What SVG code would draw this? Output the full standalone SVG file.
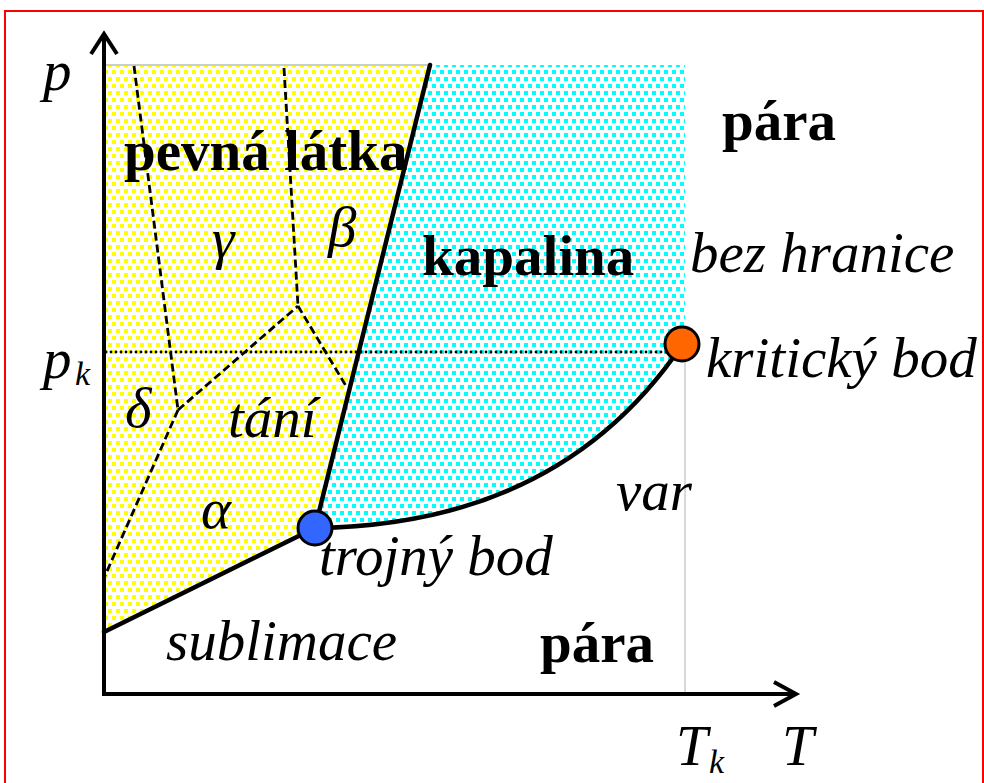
<svg xmlns="http://www.w3.org/2000/svg" width="984" height="783" viewBox="0 0 984 783">
<defs>
<pattern id="pY" width="8" height="14" patternUnits="userSpaceOnUse">
<rect x="0" y="0" width="4" height="4" fill="#FFFF00"/>
<rect x="4" y="7" width="4" height="4" fill="#FFFF00"/>
</pattern>
<pattern id="pC" width="8" height="14" patternUnits="userSpaceOnUse">
<rect x="0" y="0" width="4" height="4" fill="#00FFFF"/>
<rect x="4" y="7" width="4" height="4" fill="#00FFFF"/>
</pattern>
<style>
.t{font-family:"Liberation Serif","Times New Roman",serif;font-size:57px;fill:#000}
.b{font-weight:bold}
.i{font-style:italic}
.sub{font-size:34px}
.dash{fill:none;stroke:#000;stroke-width:2.8;stroke-dasharray:8 4}
.solid{fill:none;stroke:#000;stroke-width:4.5;stroke-linecap:round}
.axis{fill:none;stroke:#000;stroke-width:4}
</style>
</defs>
<rect width="984" height="783" fill="#fff"/>
<rect x="5" y="11" width="978" height="800" fill="none" stroke="#FF0000" stroke-width="2"/>

<g id="regions">
<polygon points="104,65 430,65 315,528 104,632" fill="url(#pY)"/>
<path d="M430,65 L685,65 L685,345 Q560,525 315,528 Z" fill="url(#pC)"/>
<line x1="104" y1="65" x2="430" y2="65" stroke="#ccc" stroke-width="2"/>
<line x1="685" y1="345" x2="685" y2="694" stroke="#ccc" stroke-width="1.5"/>
</g>

<g id="dashed-boundaries">
<line class="dash" x1="134" y1="66" x2="178" y2="410"/>
<line class="dash" x1="284" y1="68" x2="298" y2="306"/>
<line class="dash" x1="178" y1="410" x2="298" y2="306"/>
<line class="dash" x1="298" y1="306" x2="346" y2="386"/>
<line class="dash" x1="178" y1="410" x2="104" y2="578"/>
</g>

<line id="pk-line" x1="106" y1="352" x2="682" y2="352" stroke="#000" stroke-width="2.8" stroke-dasharray="0 5" stroke-linecap="round"/>

<g id="axes">
<line class="axis" x1="104" y1="34" x2="104" y2="696"/>
<polyline class="axis" points="91,54 104,34 117,54"/>
<line class="axis" x1="102" y1="694" x2="796" y2="694"/>
<polyline class="axis" points="774,682 796,694 774,706"/>
</g>

<g id="connectors">
<line class="solid" x1="104" y1="632" x2="315" y2="528"/>
<line class="solid" x1="315" y1="528" x2="430" y2="65"/>
<path class="solid" d="M315,528 Q560,525 682,345"/>
</g>

<g id="triple-point">
<circle cx="315" cy="528" r="17" fill="#3366FF" stroke="#000" stroke-width="3"/>
</g>
<g id="critical-point">
<circle cx="682" cy="344" r="17" fill="#FF6600" stroke="#000" stroke-width="3"/>
</g>

<g id="labels">
<text class="t i" x="43" y="90">p</text>
<text class="t i" x="43" y="378">p</text>
<text class="t i sub" x="75" y="385">k</text>
<text class="t i" x="782" y="765">T</text>
<text class="t i" x="676" y="765">T</text>
<text class="t i sub" x="709" y="773">k</text>
<text class="t b" x="124" y="170">pevná látka</text>
<text class="t b" x="722" y="140">pára</text>
<text class="t b" x="422" y="275">kapalina</text>
<text class="t b" x="540" y="662">pára</text>
<text class="t i" x="690" y="272">bez hranice</text>
<text class="t i" x="706" y="377">kritický bod</text>
<text class="t i" x="616" y="510">var</text>
<text class="t i" x="319" y="575">trojný bod</text>
<text class="t i" x="166" y="660">sublimace</text>
<text class="t i" x="228" y="437">tání</text>
<text class="t i" x="201" y="528">α</text>
<text class="t i" x="328" y="246">β</text>
<text class="t i" x="212" y="258">γ</text>
<text class="t i" x="125" y="427">δ</text>
</g>
</svg>
